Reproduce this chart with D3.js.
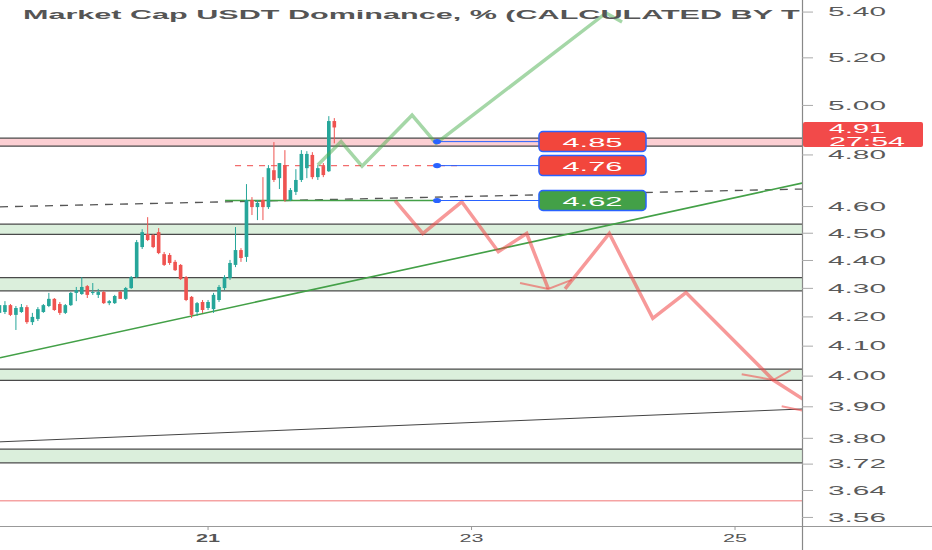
<!DOCTYPE html>
<html>
<head>
<meta charset="UTF-8">
<script src="https://cdnjs.cloudflare.com/ajax/libs/d3/7.8.5/d3.min.js"></script>
<style>
    body { margin: 0; background: #fff; }
    svg { display: block; font-family: Arial, "Liberation Sans", sans-serif; }
</style>
</head>
<body>
<svg id="chart" width="932" height="550"></svg>
<script>

// hourly candles, first one opens at 19 10:00
let candleStart = "19 10:00";
let open  = [4.214, 4.217, 4.241, 4.207, 4.217, 4.234, 4.182, 4.193, 4.217, 4.238,
             4.263, 4.245, 4.214, 4.241, 4.284, 4.280, 4.308, 4.284, 4.277, 4.287,
             4.248, 4.248, 4.288, 4.263, 4.301, 4.340, 4.449, 4.497, 4.493, 4.504,
             4.423, 4.420, 4.395, 4.384, 4.340, 4.270, 4.217, 4.252, 4.231, 4.227,
             4.259, 4.301, 4.337, 4.384, 4.438, 4.413, 4.625, 4.598, 4.625, 4.598,
             4.740, 4.709, 4.760, 4.625, 4.656, 4.702, 4.748, 4.800, 4.713, 4.756,
             4.736, 4.936];
let high  = [4.252, 4.255, 4.245, 4.238, 4.245, 4.241, 4.214, 4.234, 4.245, 4.284,
             4.266, 4.252, 4.245, 4.287, 4.305, 4.340, 4.312, 4.319, 4.298, 4.291,
             4.259, 4.277, 4.291, 4.305, 4.344, 4.475, 4.515, 4.560, 4.497, 4.519,
             4.431, 4.427, 4.402, 4.387, 4.344, 4.273, 4.252, 4.259, 4.259, 4.284,
             4.312, 4.347, 4.402, 4.523, 4.445, 4.686, 4.636, 4.625, 4.713, 4.760,
             4.851, 4.768, 4.819, 4.671, 4.744, 4.819, 4.815, 4.811, 4.760, 4.768,
             4.956, 4.948];
let low   = [4.207, 4.210, 4.203, 4.155, 4.214, 4.176, 4.172, 4.186, 4.214, 4.234,
             4.221, 4.207, 4.210, 4.238, 4.255, 4.277, 4.266, 4.277, 4.266, 4.245,
             4.241, 4.245, 4.263, 4.259, 4.298, 4.337, 4.442, 4.471, 4.445, 4.423,
             4.380, 4.384, 4.362, 4.330, 4.255, 4.196, 4.203, 4.214, 4.224, 4.214,
             4.252, 4.294, 4.330, 4.376, 4.395, 4.395, 4.568, 4.549, 4.549, 4.591,
             4.694, 4.667, 4.618, 4.621, 4.644, 4.694, 4.709, 4.705, 4.702, 4.713,
             4.733, 4.846];
let close = [4.241, 4.241, 4.207, 4.231, 4.234, 4.182, 4.200, 4.227, 4.241, 4.263,
             4.224, 4.214, 4.241, 4.284, 4.294, 4.305, 4.277, 4.287, 4.287, 4.248,
             4.255, 4.273, 4.263, 4.301, 4.340, 4.467, 4.504, 4.475, 4.449, 4.427,
             4.384, 4.391, 4.365, 4.333, 4.259, 4.207, 4.248, 4.224, 4.252, 4.277,
             4.305, 4.340, 4.391, 4.438, 4.409, 4.625, 4.598, 4.614, 4.598, 4.748,
             4.702, 4.768, 4.625, 4.663, 4.702, 4.804, 4.804, 4.713, 4.748, 4.721,
             4.936, 4.910];

let timeRange  = ["19 10:06", "25 12:12"];
let priceRange = [3.535, 5.454];
let priceTicks = [5.40, 5.20, 5.00, 4.80, 4.60, 4.50, 4.40, 4.30, 4.20, 4.10, 4.00, 3.90, 3.80, 3.72, 3.64, 3.56];
let dayTicks   = ["21 00:00", "23 00:00", "25 00:00"];

// the title is cut by the price scale in the picture
let title = "Market Cap USDT Dominance, % (CALCULATED BY T";
let lastPrice = "4.91";
let countdown = "27:54";

// rectangles drawn on the chart
let pinkZone   = [4.835, 4.867];
let greenZones = [[4.496, 4.534], [4.291, 4.338], [3.986, 4.023], [3.724, 3.766]];

// full-width lines [start value, end value]
let dashedLine = [4.599, 4.667];
let greenTrend = [4.061, 4.690];
let blackTrend = [3.789, 3.893];
let redLevel   = 3.609;

// price levels with labels
let levelValues = [4.853, 4.758, 4.623];
let levelColors = ["#f2463c", "#f2463c", "#43a047"];
let levelFrom   = "22 17:43";
let labelFrom   = "23 12:17";
let labelTo     = "24 07:47";
let greenLevelFrom = "21 03:06";
let redLevelFrom   = "21 04:55", redLevelTo = "22 22:27";

// projected paths
let upPathTime   = ["21 20:00", "22 00:14", "22 04:03", "22 13:10", "22 17:32", "24 00:30", "24 03:25"];
let upPathValue  = [4.760, 4.853, 4.756, 4.960, 4.846, 5.396, 5.356];
let down1Time    = ["22 10:04", "22 15:07", "22 22:13", "23 04:53", "23 10:03", "23 13:59"];
let down1Value   = [4.623, 4.499, 4.618, 4.432, 4.499, 4.298];
let arrow1Time   = ["23 08:50", "23 13:59", "23 18:15"];
let arrow1Value  = [4.319, 4.298, 4.330];
let down2Time    = ["23 17:02", "24 01:06", "24 09:01", "24 15:04", "25 06:58", "25 17:18"];
let down2Value   = [4.298, 4.499, 4.195, 4.285, 3.987, 3.869];
let arrow2Time   = ["25 01:13", "25 06:58", "25 10:08"];
let arrow2Value  = [4.006, 3.987, 4.020];
let arrow3Time   = ["25 08:30", "25 14:34"];
let arrow3Value  = [3.902, 3.879];

//=====================================  =====================================//
let parse = d3.timeParse("%d %H:%M");
let svg = d3.select("#chart");
let plotW = 802, plotH = 526, W = 932, H = 550;

let x = d3.scaleTime().domain(timeRange.map(parse)).range([0, plotW]);
let y = d3.scaleLog().domain(priceRange).range([plotH, 0]);

svg.append("defs").append("clipPath").attr("id", "plotClip")
    .append("rect").attr("width", plotW).attr("height", plotH);

let plot = svg.append("g").attr("clip-path", "url(#plotClip)");
let x0 = x.domain()[0], x1 = x.domain()[1];

// zones
function zone(lo, hi, fill) {
    plot.append("rect")
        .attr("x", 0).attr("width", plotW)
        .attr("y", y(hi)).attr("height", y(lo) - y(hi))
        .attr("fill", fill);
    [lo, hi].forEach(v => plot.append("line")
        .attr("x1", 0).attr("x2", plotW).attr("y1", y(v)).attr("y2", y(v))
        .attr("stroke", "#4a4a4a").attr("stroke-width", 1.2));
}
zone(pinkZone[0], pinkZone[1], "rgba(242,54,69,0.24)");
greenZones.forEach(z => zone(z[0], z[1], "rgba(76,175,80,0.2)"));

// long lines
function seg(t0, v0, t1, v1) {
    return plot.append("line")
        .attr("x1", x(t0)).attr("y1", y(v0))
        .attr("x2", x(t1)).attr("y2", y(v1));
}
seg(x0, redLevel, x1, redLevel).attr("stroke", "#f5a3a3").attr("stroke-width", 1.5);
seg(x0, blackTrend[0], x1, blackTrend[1]).attr("stroke", "#444").attr("stroke-width", 1);
seg(x0, dashedLine[0], x1, dashedLine[1]).attr("stroke", "#555").attr("stroke-width", 1.3)
    .attr("stroke-dasharray", "8,7");
seg(x0, greenTrend[0], x1, greenTrend[1]).attr("stroke", "#43a047").attr("stroke-width", 1.6);

// short level lines
seg(parse(greenLevelFrom), levelValues[2], parse(levelFrom), levelValues[2])
    .attr("stroke", "#43a047").attr("stroke-width", 1.5);
seg(parse(redLevelFrom), levelValues[1], parse(redLevelTo), levelValues[1])
    .attr("stroke", "#f26d6d").attr("stroke-width", 1.3).attr("stroke-dasharray", "6,6");

// candles
let t0 = parse(candleStart);
let candles = open.map((o, i) => ({
    t: d3.timeHour.offset(t0, i), o, h: high[i], l: low[i], c: close[i]
}));
let step = x(d3.timeHour.offset(t0, 1)) - x(t0);
let bw = step * 0.66;
let cg = plot.append("g").selectAll("g").data(candles).join("g")
    .attr("fill", d => d.c >= d.o ? "#26a69a" : "#ef5350")
    .attr("stroke", d => d.c >= d.o ? "#26a69a" : "#ef5350");
cg.append("line")
    .attr("x1", d => x(d.t)).attr("x2", d => x(d.t))
    .attr("y1", d => y(d.h)).attr("y2", d => y(d.l))
    .attr("stroke-width", 1);
cg.append("rect")
    .attr("stroke", "none")
    .attr("x", d => x(d.t) - bw / 2).attr("width", bw)
    .attr("y", d => y(Math.max(d.o, d.c)))
    .attr("height", d => Math.max(1, Math.abs(y(d.o) - y(d.c))));

// projected paths
let line = d3.line().x(d => x(d[0])).y(d => y(d[1]));
function path(times, values, color, w) {
    plot.append("path")
        .datum(times.map((t, i) => [parse(t), values[i]]))
        .attr("d", line)
        .attr("fill", "none").attr("stroke", color).attr("stroke-width", w)
        .attr("stroke-linejoin", "miter");
}
path(upPathTime, upPathValue, "rgba(76,175,80,0.5)", 3.5);
path(down1Time, down1Value, "rgba(240,70,70,0.55)", 3.5);
path(down2Time, down2Value, "rgba(240,70,70,0.55)", 3.5);
path(arrow1Time, arrow1Value, "rgba(240,70,70,0.55)", 2);
path(arrow2Time, arrow2Value, "rgba(240,70,70,0.55)", 2);
path(arrow3Time, arrow3Value, "rgba(240,70,70,0.55)", 2);

// level connectors and labels
levelValues.forEach((v, i) => {
    let yy = y(v);
    plot.append("line")
        .attr("x1", x(parse(levelFrom))).attr("x2", x(parse(labelFrom)))
        .attr("y1", yy).attr("y2", yy)
        .attr("stroke", "#2962ff").attr("stroke-width", 1);
    plot.append("ellipse")
        .attr("cx", x(parse(levelFrom))).attr("cy", yy).attr("rx", 4).attr("ry", 2.6)
        .attr("fill", "#2962ff");
    let bx = x(parse(labelFrom)), bx2 = x(parse(labelTo));
    plot.append("rect")
        .attr("x", bx).attr("y", yy - 10).attr("width", bx2 - bx).attr("height", 20)
        .attr("rx", 4).attr("fill", levelColors[i])
        .attr("stroke", "#2962ff").attr("stroke-width", 1.5);
    plot.append("text")
        .attr("x", (bx + bx2) / 2).attr("y", yy + 5)
        .attr("text-anchor", "middle").attr("fill", "#fff")
        .attr("font-size", 13).attr("textLength", 60).attr("lengthAdjust", "spacingAndGlyphs")
        .text(d3.format(".2f")(v));
});

// title, stretched like the picture
let tt = plot.append("text")
    .attr("font-size", 13).attr("font-weight", "bold").attr("fill", "#555")
    .text(title);
let partLen = tt.node().getSubStringLength(0, 25);
let fullLen = tt.node().getComputedTextLength();
let sx = Math.min(436 / partLen, 777 / fullLen);
tt.attr("transform", `translate(23,18.5) scale(${sx},1)`);

// axes frame
svg.append("line").attr("x1", 0).attr("x2", W).attr("y1", plotH + 0.5).attr("y2", plotH + 0.5)
    .attr("stroke", "#999").attr("stroke-width", 1);
svg.append("line").attr("x1", plotW + 0.5).attr("x2", plotW + 0.5).attr("y1", 0).attr("y2", H)
    .attr("stroke", "#888").attr("stroke-width", 1.2);

// price axis
let ya = svg.append("g");
ya.selectAll("line").data(priceTicks).join("line")
    .attr("x1", plotW).attr("x2", plotW + 11)
    .attr("y1", d => y(d)).attr("y2", d => y(d))
    .attr("stroke", "#aaa");
ya.selectAll("text").data(priceTicks).join("text")
    .attr("x", 828).attr("y", d => y(d) + 4.3)
    .attr("font-size", 12).attr("fill", "#5a5a5a")
    .attr("textLength", 58).attr("lengthAdjust", "spacingAndGlyphs")
    .text(d3.format(".2f"));

// current price tag
let pt = svg.append("g");
pt.append("rect").attr("x", plotW + 1).attr("y", 122).attr("width", 120).attr("height", 25)
    .attr("rx", 2).attr("fill", "#f24a4a");
pt.append("text").attr("x", 829).attr("y", 133).attr("font-size", 12).attr("fill", "#fff")
    .attr("textLength", 56).attr("lengthAdjust", "spacingAndGlyphs").text(lastPrice);
pt.append("text").attr("x", 829).attr("y", 145.5).attr("font-size", 12).attr("fill", "#fff")
    .attr("textLength", 76).attr("lengthAdjust", "spacingAndGlyphs").text(countdown);

// time axis
let xa = svg.append("g");
xa.selectAll("line").data(dayTicks.map(parse)).join("line")
    .attr("x1", d => x(d)).attr("x2", d => x(d))
    .attr("y1", plotH).attr("y2", plotH + 4).attr("stroke", "#999");
xa.selectAll("text").data(dayTicks.map(parse)).join("text")
    .attr("x", d => x(d)).attr("y", 542)
    .attr("text-anchor", "middle").attr("font-size", 11.5).attr("fill", "#555")
    .attr("font-weight", (d, i) => i === 0 ? "bold" : "normal")
    .attr("textLength", 24).attr("lengthAdjust", "spacingAndGlyphs")
    .text(d3.timeFormat("%d"));

</script>
</body>
</html>
